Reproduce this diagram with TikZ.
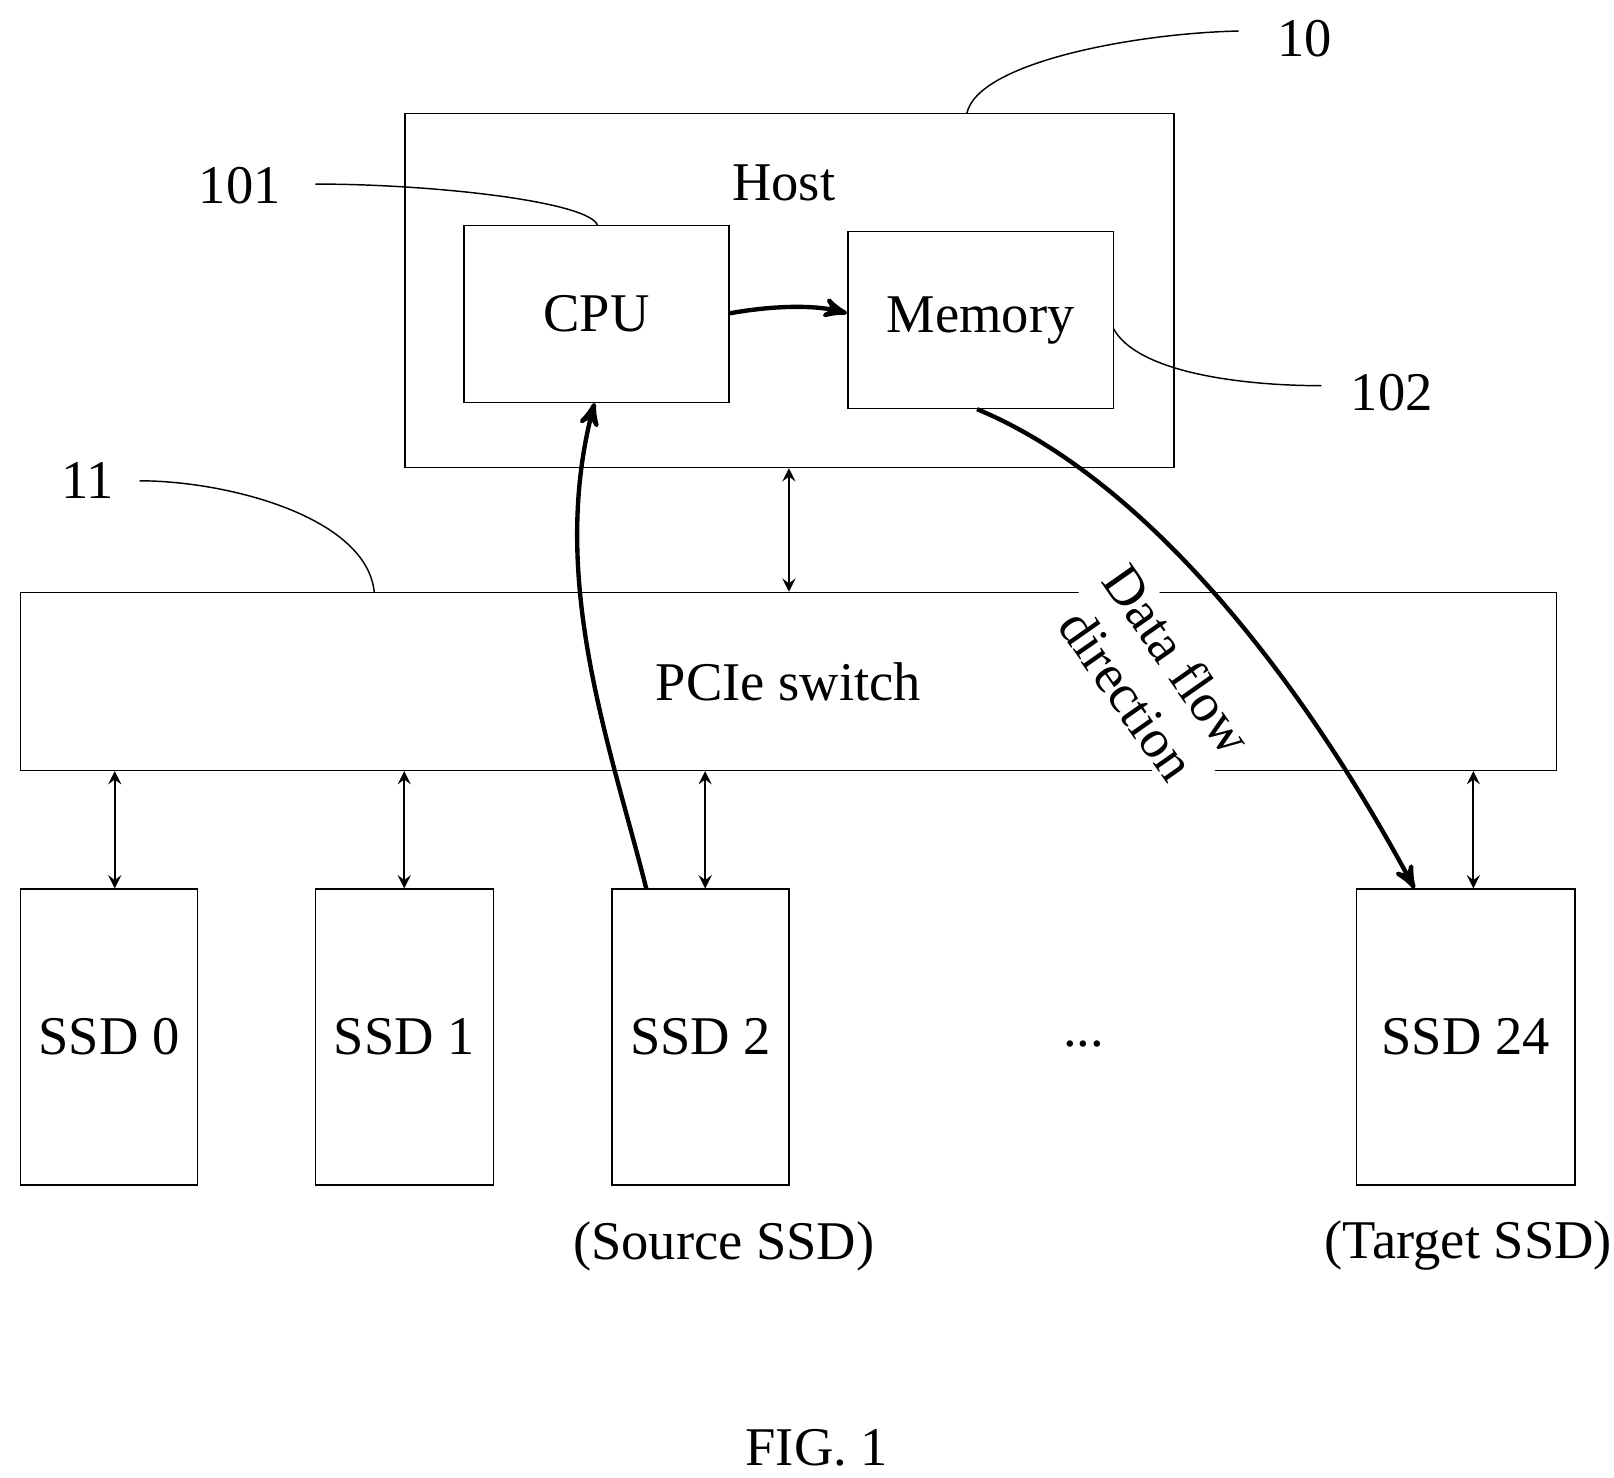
\documentclass[tikz,border=0pt]{standalone}
\usepackage{fontspec}
\setmainfont{Liberation Serif}
\usetikzlibrary{arrows,positioning}
\tikzstyle{box} = [rectangle, draw, thin, inner sep=0pt]
\tikzstyle{link} = [semithick,<->,>=stealth]
\tikzstyle{flow} = [very thick,->,>=stealth']
\tikzstyle{callout} = [thin]
\begin{document}
\begin{tikzpicture}[x=0.01cm,y=-0.01cm,font=\fontsize{15}{17}\selectfont]
\useasboundingbox (0,0) rectangle (1561,1429);
% Host
\node[box, minimum width=7.43cm, minimum height=3.42cm] at (763.5,281) (host) {};
\node at (758,177) (hosttxt) {Host};
\node[box, minimum width=2.56cm, minimum height=1.71cm] at (577,303.5) (cpu) {CPU};
\node[box, minimum width=2.57cm, minimum height=1.71cm] at (948.5,309.5) (mem) {Memory};

% PCIe switch
\node[box, minimum width=14.85cm, minimum height=1.72cm] at (762.5,659) (pcie) {PCIe switch};

% SSDs
\node[box, minimum width=1.71cm, minimum height=2.86cm] at (105.5,1003) (ssd0) {SSD 0};
\node[box, minimum width=1.72cm, minimum height=2.86cm] at (391,1003) (ssd1) {SSD 1};
\node[box, minimum width=1.71cm, minimum height=2.86cm] at (677.5,1003) (ssd2) {SSD 2};
\node[box, minimum width=2.11cm, minimum height=2.86cm] at (1417.5,1003) (ssd24) {SSD 24};
\node at (1048,1010) (dots) {...};
\node at (700,1205) (src) {(Source SSD)};
\node at (1420,1205) (tgt) {(Target SSD)};
\node at (790,1400) (fig) {FIG. 1};

% links
\draw[link] (host.south -| 763,0) -- (pcie.north -| 763,0);
\foreach \s/\x in {ssd0/111,ssd1/391,ssd2/682,ssd24/1425}
  \draw[link] (pcie.south -| \x,0) -- (\s.north -| \x,0);

% data flow
\node[fill=white, inner sep=1pt, rotate=-55, align=center] at (1115,655) (dflow) {Data flow\\direction};
\draw[flow] (cpu.east |- 0,303) .. controls (750,295) and (790,295) .. (mem.west |- 0,303);
\draw[flow] (ssd2.north -| 625,0) .. controls (590,720) and (530,560) .. (cpu.south -| 575,0);
\draw[flow] (mem.south -| 945,0) .. controls (1100,460) and (1250,640) .. (ssd24.north -| 1368,0);

% callouts
\node at (1262,37) (n10) {10};
\node at (232,180) (n101) {101};
\node at (1346,380) (n102) {102};
\node at (85,465) (n11) {11};
\coordinate (c10) at (935,110);
\coordinate (c101) at (578,218);
\coordinate (c102) at (1077,318);
\coordinate (c11) at (362,573);
\draw[callout] (c10) .. controls (945,60) and (1100,32) .. (1198,30);
\draw[callout] (c101) .. controls (570,195) and (420,178) .. (305,178);
\draw[callout] (c102) .. controls (1100,360) and (1200,373) .. (1278,373);
\draw[callout] (c11) .. controls (355,500) and (220,465) .. (135,465);
\end{tikzpicture}
\end{document}
